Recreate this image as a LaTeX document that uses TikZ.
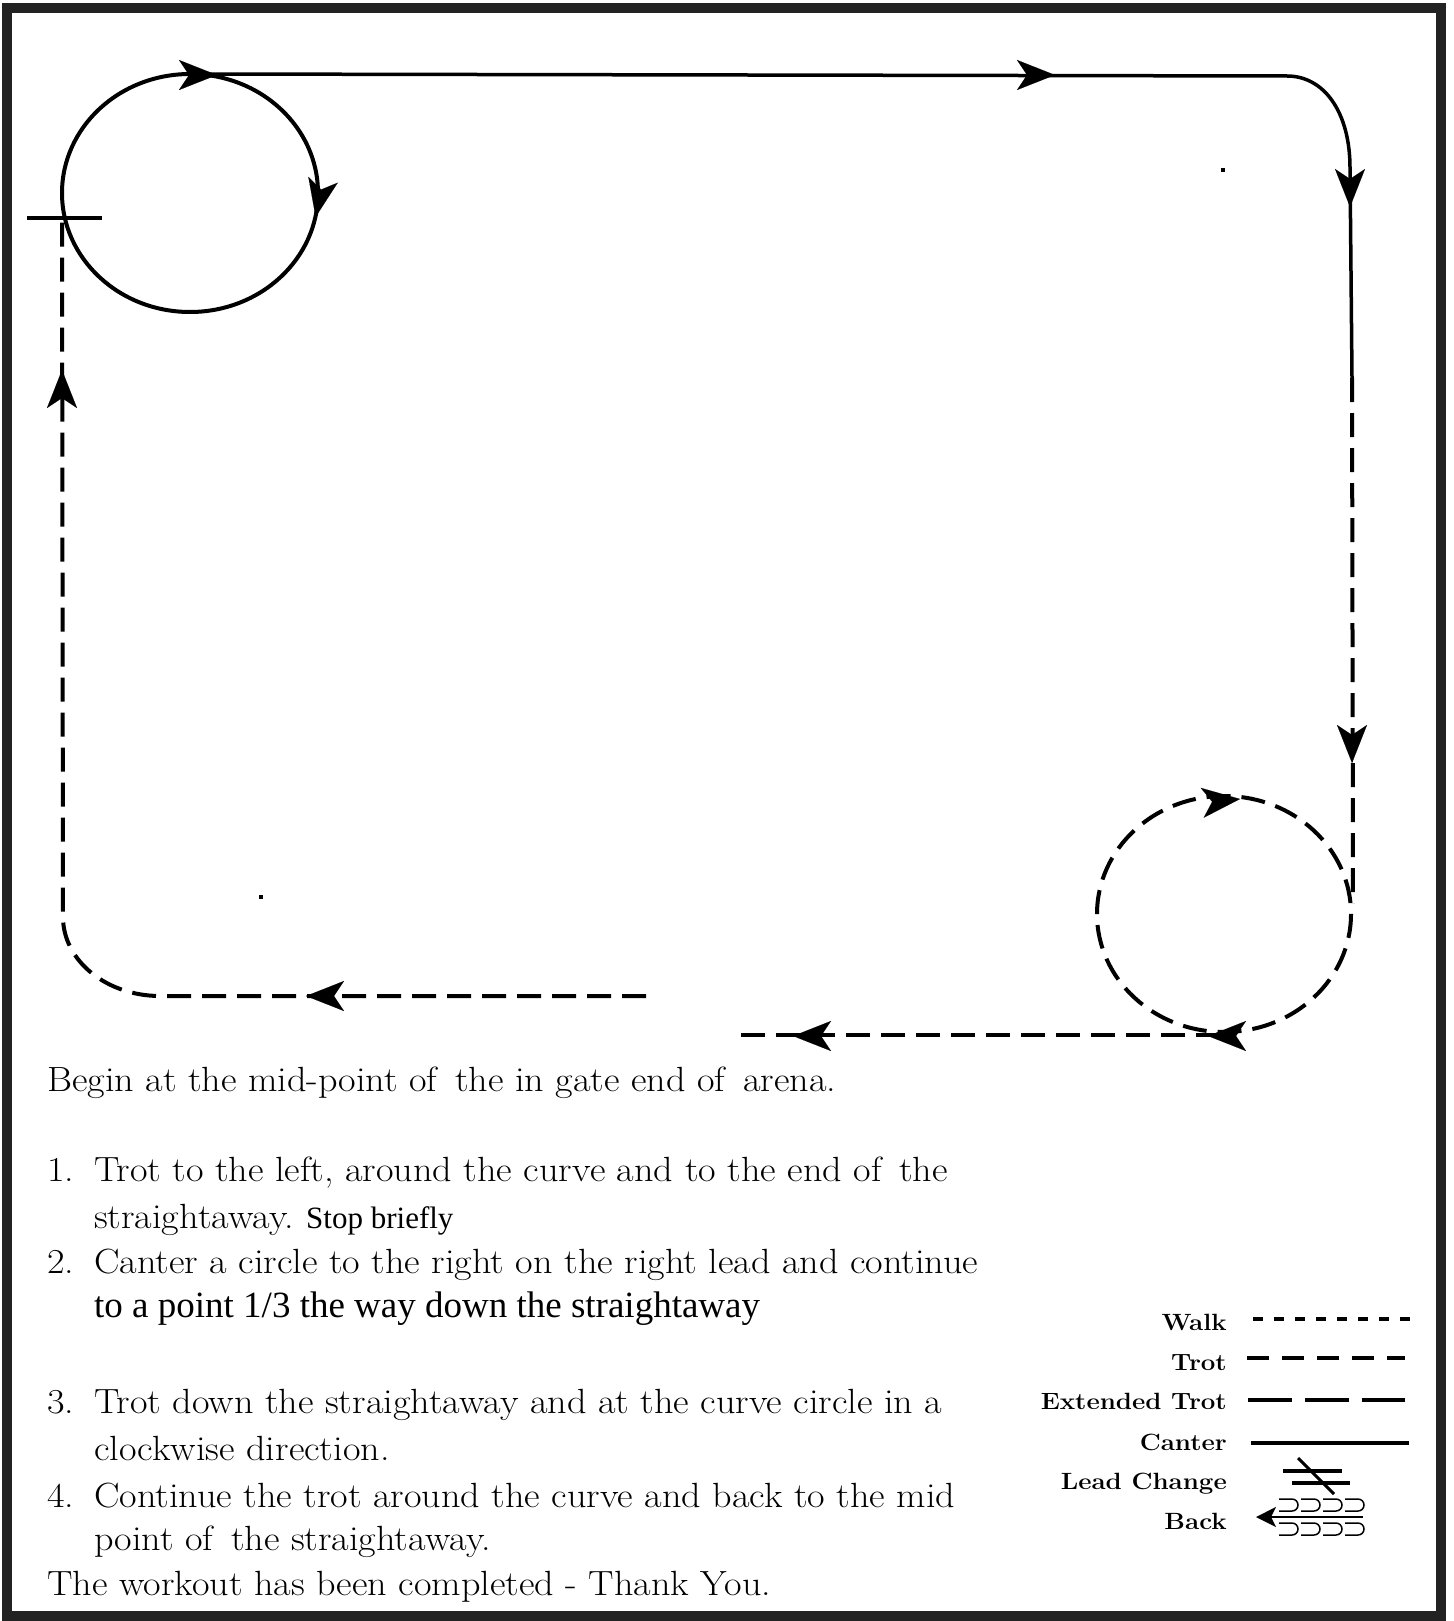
\documentclass[tikz,border=0pt]{standalone}
\usepackage{fontspec}
\newfontfamily\timesf{Liberation Serif}
\usetikzlibrary{arrows.meta}
\definecolor{framec}{RGB}{34,34,34}
\tikzset{
  track/.style={line width=4pt, black},
  trot/.style={track, dash pattern=on 24pt off 11pt},
  canter/.style={track},
  tip/.style={line width=0.1pt, -{Stealth[length=38pt,width=30pt,inset=10pt]}},
  txt/.style={anchor=base west, inner sep=0pt, xscale=1.09, font=\fontsize{35}{42}\selectfont},
  ttxt/.style={anchor=base west, inner sep=0pt, font=\timesf\fontsize{37}{42}\selectfont},
  legtxt/.style={anchor=base east, inner sep=0pt, xscale=1.1, font=\fontsize{23.5}{28}\selectfont\bfseries},
  legline/.style={line width=3.5pt},
  shoe/.style={line width=1.5pt}
}
\newcommand{\myshoe}[2]{\draw[shoe] (#1,#2-6) -- (#1+13,#2-6) arc[start angle=-90,end angle=90,radius=6] -- (#1,#2+6);}
\begin{document}
\begin{tikzpicture}[x=1pt,y=-1pt]
\useasboundingbox (0,0) rectangle (1453,1621);
\fill[white] (0,0) rectangle (1453,1621);
% frame
\draw[framec, line width=10pt] (7,8) rectangle (1441,1616);

% top-left canter circle
\draw[canter] (190,193) ellipse[x radius=128, y radius=119];
\draw[tip] (216,75) -- (217,75);
\draw[tip] (315.8,216) -- (315.6,217);
% start mark
\draw[line width=4pt] (27,218) -- (102,218);

% top straight + corner (canter)
\draw[canter, line width=3.5pt] (205,74) -- (1287,76) .. controls (1324,76) and (1350,112) .. (1350,168) -- (1352,378);
\draw[tip] (1054,75) -- (1055,75);
\draw[tip] (1350,206) -- (1350,207);

% right trot straight
\draw[trot] (1352,378) -- (1353,903);
\draw[tip] (1352,762) -- (1352,763);

% bottom-right trot circle
\draw[trot] (1224,914) ellipse[x radius=127, y radius=118];
\draw[tip] (1239,799.1) -- (1240,799);
\draw[tip] (1209,1036) -- (1208,1036);

% bottom trot straight
\draw[trot] (1220,1035) -- (736,1035);
\draw[tip] (794,1036) -- (793,1036);

% bottom-left trot + corner + left straight
\draw[trot] (646,996) -- (160,996) .. controls (107,996) and (63,961) .. (63,917) -- (62,218);
\draw[tip] (307,996) -- (306,996);
\draw[tip] (62,371) -- (62,370);

% stray dots
\fill (259,895) rectangle (263,899);
\fill (1221,168) rectangle (1225,172);

% instructions
\node[txt] (t0) at (47,1091) {Begin at the mid-point of\, the in gate end of\, arena.};
\node[txt] (n1) at (47,1181) {1.};
\node[txt] (t1) at (94,1181) {Trot to the left, around the curve and to the end of\, the};
\node[txt] (t1b) at (94,1228) {straightaway.};
\node[anchor=base west, inner sep=0pt, font=\timesf\fontsize{31}{36}\selectfont] (sb) at (306,1228) {Stop briefly};
\node[txt] (n2) at (47,1273) {2.};
\node[txt] (t2) at (94,1273) {Canter a circle to the right on the right lead and continue};
\node[ttxt] (t2b) at (94,1317) {to a point 1/3 the way down the straightaway};
\node[txt] (n3) at (47,1413) {3.};
\node[txt] (t3) at (94,1413) {Trot down the straightaway and at the curve circle in a};
\node[txt] (t3b) at (94,1460) {clockwise direction.};
\node[txt] (n4) at (47,1507) {4.};
\node[txt] (t4) at (94,1507) {Continue the trot around the curve and back to the mid};
\node[txt] (t4b) at (94,1550) {point of\, the straightaway.};
\node[txt] (t5) at (47,1595) {The workout has been completed - Thank You.};

% legend
\node[legtxt] (lw) at (1227,1330) {Walk};
\node[legtxt] (lt) at (1227,1370) {Trot};
\node[legtxt] (le) at (1227,1409) {Extended Trot};
\node[legtxt] (lc) at (1227,1450) {Canter};
\node[legtxt] (ll) at (1227,1489) {Lead Change};
\node[legtxt] (lb) at (1227,1529) {Back};

\draw[legline, dash pattern=on 10pt off 11pt] (1253,1319) -- (1414,1319);
\draw[legline, dash pattern=on 22pt off 13pt] (1247,1358) -- (1405,1358);
\draw[legline, dash pattern=on 44pt off 13pt] (1248,1400) -- (1405,1400);
\draw[legline] (1251,1443) -- (1409,1443);
% lead change
\draw[legline] (1283,1471) -- (1342,1471);
\draw[legline] (1292,1483) -- (1350,1483);
\draw[line width=3pt] (1298,1458) -- (1334,1494);
% back
\draw[line width=2pt, -{Stealth[length=20pt,width=20pt,inset=5pt]}] (1363,1517) -- (1256,1517);
\foreach \xx in {1279,1301,1323,1345}{\myshoe{\xx}{1505}\myshoe{\xx}{1529}}
\end{tikzpicture}
\end{document}
